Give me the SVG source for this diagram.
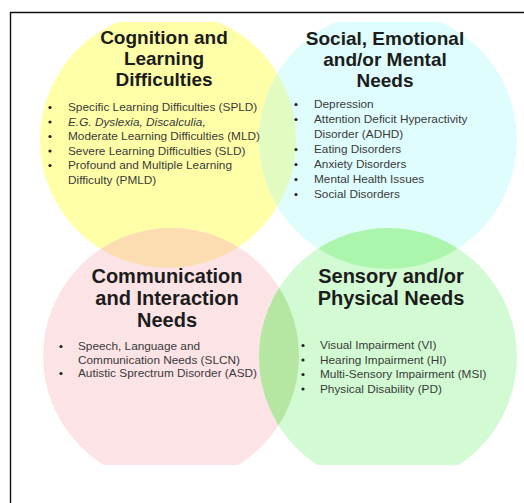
<svg xmlns="http://www.w3.org/2000/svg" width="524" height="503" viewBox="0 0 524 503">
<style>
.title{font-family:"Liberation Sans",Arial,sans-serif;font-weight:bold;font-size:19px;fill:#1c1c1c;text-anchor:middle}
.title2{font-family:"Liberation Sans",Arial,sans-serif;font-weight:bold;font-size:20px;fill:#1c1c1c;text-anchor:middle}
.item{font-family:"Liberation Sans",Arial,sans-serif;font-size:11.8px;fill:#3a3a3a}
.bul{fill:#222}
</style>
<defs>
<clipPath id="area"><rect x="0" y="22" width="524" height="443"/></clipPath>
<clipPath id="cY"><circle cx="168" cy="140" r="128"/></clipPath>
<clipPath id="cP"><circle cx="171" cy="356" r="128"/></clipPath>
<clipPath id="cG"><circle cx="388" cy="357" r="129"/></clipPath>
</defs>
<rect width="524" height="503" fill="#fff"/>
<g clip-path="url(#area)">
  <g id="circle-yellow"><circle cx="168" cy="140" r="128" fill="#FFFFA8"/></g>
  <g id="circle-cyan"><circle cx="388" cy="140" r="129" fill="#DFFDFD"/></g>
  <g id="circle-pink"><circle cx="171" cy="356" r="128" fill="#FCE3E6"/></g>
  <g id="circle-green"><circle cx="388" cy="357" r="129" fill="#D3FBD3"/></g>
  <circle cx="388" cy="140" r="129" fill="#E2FBC0" clip-path="url(#cY)"/>
  <circle cx="171" cy="356" r="128" fill="#FCDDB2" clip-path="url(#cY)"/>
  <circle cx="388" cy="140" r="129" fill="#ACF5AC" clip-path="url(#cG)"/>
  <circle cx="171" cy="356" r="128" fill="#B5E6A2" clip-path="url(#cG)"/>
</g>
<path d="M10.5,503 V12.5 H524" fill="none" stroke="#111" stroke-width="1.4"/>

<g id="cognition">
  <text class="title" x="164" y="44">Cognition and</text>
  <text class="title" x="164" y="65">Learning</text>
  <text class="title" x="164" y="86">Difficulties</text>
  <g class="bul"><circle cx="50" cy="107.5" r="1.6"/><circle cx="50" cy="122" r="1.6"/><circle cx="50" cy="136.5" r="1.6"/><circle cx="50" cy="151" r="1.6"/><circle cx="50" cy="165.5" r="1.6"/></g>
  <text class="item" x="68" y="111">Specific Learning Difficulties (SPLD)</text>
  <text class="item" x="68" y="125.5" font-style="italic">E.G. Dyslexia, Discalculia,</text>
  <text class="item" x="68" y="140">Moderate Learning Difficulties (MLD)</text>
  <text class="item" x="68" y="154.5">Severe Learning Difficulties (SLD)</text>
  <text class="item" x="68" y="169">Profound and Multiple Learning</text>
  <text class="item" x="68" y="183.5">Difficulty (PMLD)</text>
</g>

<g id="social">
  <text class="title" x="385" y="45">Social, Emotional</text>
  <text class="title" x="385" y="66">and/or Mental</text>
  <text class="title" x="385" y="87">Needs</text>
  <g class="bul"><circle cx="296" cy="104.5" r="1.6"/><circle cx="296" cy="119.5" r="1.6"/><circle cx="296" cy="149.5" r="1.6"/><circle cx="296" cy="164.5" r="1.6"/><circle cx="296" cy="179.5" r="1.6"/><circle cx="296" cy="194.5" r="1.6"/></g>
  <text class="item" x="314" y="108">Depression</text>
  <text class="item" x="314" y="123">Attention Deficit Hyperactivity</text>
  <text class="item" x="314" y="138">Disorder (ADHD)</text>
  <text class="item" x="314" y="153">Eating Disorders</text>
  <text class="item" x="314" y="168">Anxiety Disorders</text>
  <text class="item" x="314" y="183">Mental Health Issues</text>
  <text class="item" x="314" y="198">Social Disorders</text>
</g>

<g id="communication">
  <text class="title2" x="167" y="283">Communication</text>
  <text class="title2" x="167" y="305">and Interaction</text>
  <text class="title2" x="167" y="327">Needs</text>
  <g class="bul"><circle cx="61" cy="346.5" r="1.6"/><circle cx="61" cy="373.5" r="1.6"/></g>
  <text class="item" x="78" y="350">Speech, Language and</text>
  <text class="item" x="78" y="363.5">Communication Needs (SLCN)</text>
  <text class="item" x="78" y="377">Autistic Sprectrum Disorder (ASD)</text>
</g>

<g id="sensory">
  <text class="title2" x="391" y="283">Sensory and/or</text>
  <text class="title2" x="391" y="305">Physical Needs</text>
  <g class="bul"><circle cx="303" cy="345.5" r="1.6"/><circle cx="303" cy="360" r="1.6"/><circle cx="303" cy="374.5" r="1.6"/><circle cx="303" cy="389" r="1.6"/></g>
  <text class="item" x="320" y="349">Visual Impairment (VI)</text>
  <text class="item" x="320" y="363.5">Hearing Impairment (HI)</text>
  <text class="item" x="320" y="378">Multi-Sensory Impairment (MSI)</text>
  <text class="item" x="320" y="392.5">Physical Disability (PD)</text>
</g>
</svg>
